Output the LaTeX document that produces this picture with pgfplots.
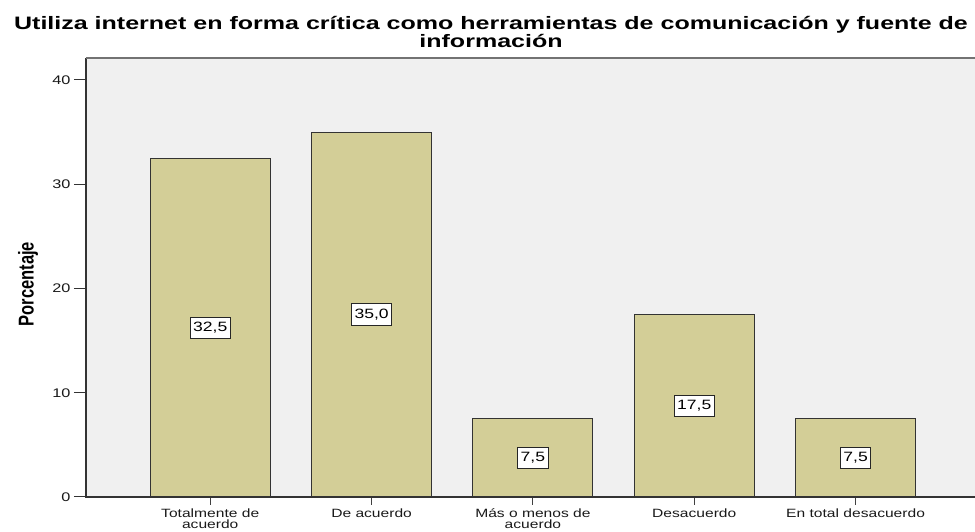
\documentclass[border=0pt]{standalone}
\usepackage{pgfplots}
\pgfplotsset{compat=1.18}
\usepackage{graphicx}
\usepackage{fontspec}
\setmainfont{Liberation Sans}[FakeStretch=1.3]
\newfontfamily\plainsans{Liberation Sans}
\newfontfamily\titlefont{Liberation Sans}[FakeStretch=1.39]
\definecolor{barfill}{RGB}{211,206,151}
\definecolor{bgfill}{RGB}{240,240,240}
\begin{document}
\begin{tikzpicture}
\useasboundingbox (-86pt,-35pt) rectangle (889pt,497pt);
\begin{axis}[
  at={(0pt,0pt)}, anchor=south west,
  scale only axis, width=889pt, height=439pt,
  xmin=-0.77, xmax=4.74, ymin=0, ymax=42.1,
  clip=false,
  axis background/.style={fill=bgfill},
  axis line style={draw=none},
  ybar, bar width=0.744,
  xtick={0,1,2,3,4},
  xticklabels={{Totalmente de\\acuerdo},{De acuerdo},{Más o menos de\\acuerdo},{Desacuerdo},{En total desacuerdo}},
  xticklabel style={align=center, font=\fontsize{12}{11.5}\selectfont, text=black!90, yshift=4pt},
  ytick={0,10,20,30,40},
  yticklabel style={font=\fontsize{12.5}{14}\selectfont, text=black!90},
  tick align=outside, xtick pos=bottom, ytick pos=left,
  major tick length=12pt,
  xtick style={/pgfplots/major tick length=8pt, black!75, line width=1pt},
  ytick style={black!80, line width=1pt},
  /pgf/number format/assume math mode=true,
  ylabel={\scalebox{1}[1.3]{\plainsans\bfseries\fontsize{16.5}{18}\selectfont Porcentaje}},
  ylabel style={at={(axis description cs:-0.0652,0.485)}, anchor=center},
]
\addplot[fill=barfill, draw=black!80, line width=1pt,
  visualization depends on={y \as \ry},
  nodes near coords={\pgfmathprintnumber[fixed,fixed zerofill,precision=1,use comma]{\pgfplotspointmeta}},
  nodes near coords align={center},
  every node near coord/.append style={anchor=center, yshift=-5.2138*\ry, fill=white, draw=black!85, line width=0.9pt, inner xsep=3pt, inner ysep=5pt, font=\fontsize{13.5}{15}\selectfont, text=black}
] coordinates {(0,32.5) (1,35.0) (2,7.5) (3,17.5) (4,7.5)};
\draw[black!80, line width=1.2pt] (rel axis cs:0,1) -- (rel axis cs:0,0) -- (rel axis cs:1,0);
\draw[black!55, line width=1.2pt] (rel axis cs:0,1) -- (rel axis cs:1,1);
\end{axis}
\node[anchor=base, font=\fontsize{18}{20}\selectfont\titlefont\bfseries] at (405pt,467pt) {Utiliza internet en forma crítica como herramientas de comunicación y fuente de};
\node[anchor=base, font=\fontsize{18}{20}\selectfont\titlefont\bfseries] at (405pt,449pt) {información};
\end{tikzpicture}
\end{document}
